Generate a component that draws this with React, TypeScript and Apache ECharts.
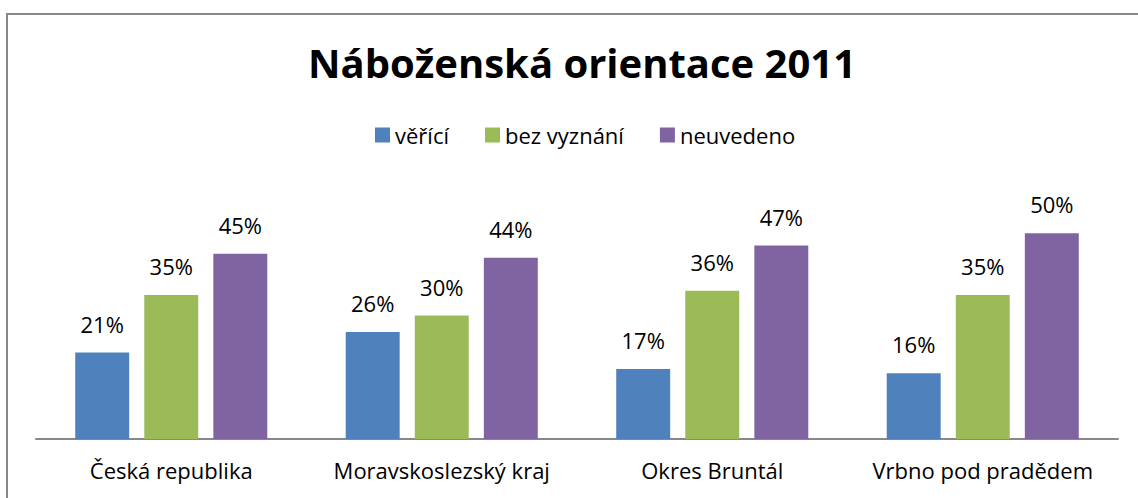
import React, { useEffect, useRef } from "react";
import * as echarts from "echarts";

const categories = ["Česká republika", "Moravskoslezský kraj", "Okres Bruntál", "Vrbno pod pradědem"];
const seriesNames = ["věřící", "bez vyznání", "neuvedeno"];
const veriici = [21, 26, 17, 16];
const bezVyznani = [35, 30, 36, 35];
const neuvedeno = [45, 44, 47, 50];
const colors = ["#4F81BD", "#9BBB59", "#8064A2"];

const FONT = "Open Sans";

export default function App() {
  const ref = useRef<HTMLDivElement>(null);
  useEffect(() => {
    document.body.style.margin = "0";
    if (!ref.current) return;
    const chart = echarts.init(ref.current, null, { renderer: "svg" });
    const values = [veriici, bezVyznani, neuvedeno];
    chart.setOption({
      animation: false,
      backgroundColor: "#ffffff",
      textStyle: { fontFamily: FONT },
      title: {
        text: "Náboženská orientace 2011",
        left: 303,
        top: 37,
        textStyle: { fontFamily: FONT, fontWeight: "bold", fontSize: 40, color: "#000" },
      },
      legend: {
        data: seriesNames,
        top: 119,
        left: 370,
        itemWidth: 15,
        itemHeight: 15,
        itemGap: 36,
        icon: "rect",
        textStyle: { fontFamily: FONT, fontSize: 22, color: "#000" },
      },
      graphic: [
        {
          type: "rect",
          shape: { x: 7, y: 14, width: 1200, height: 600 },
          style: { fill: "none", stroke: "#888888", lineWidth: 2 },
          silent: true,
        },
      ],
      grid: { left: 36, right: 20, top: 192, bottom: 59, containLabel: false },
      xAxis: {
        type: "category",
        data: categories,
        axisLine: { lineStyle: { color: "#888888", width: 2 } },
        axisTick: { show: false },
        axisLabel: { fontFamily: FONT, fontSize: 22, color: "#000", margin: 20, interval: 0 },
      },
      yAxis: {
        type: "value",
        min: 0,
        max: 60,
        show: false,
        splitLine: { show: false },
      },
      series: values.map((v, i) => ({
        name: seriesNames[i],
        type: "bar",
        data: v,
        barGap: "28%",
        barCategoryGap: "29%",
        itemStyle: { color: colors[i] },
        label: {
          show: true,
          position: "top",
          distance: 18,
          formatter: "{c}%",
          fontFamily: FONT,
          fontSize: 22,
          color: "#000",
        },
      })),
    });
    return () => chart.dispose();
  }, []);
  return <div ref={ref} style={{ width: 1138, height: 498 }} />;
}
